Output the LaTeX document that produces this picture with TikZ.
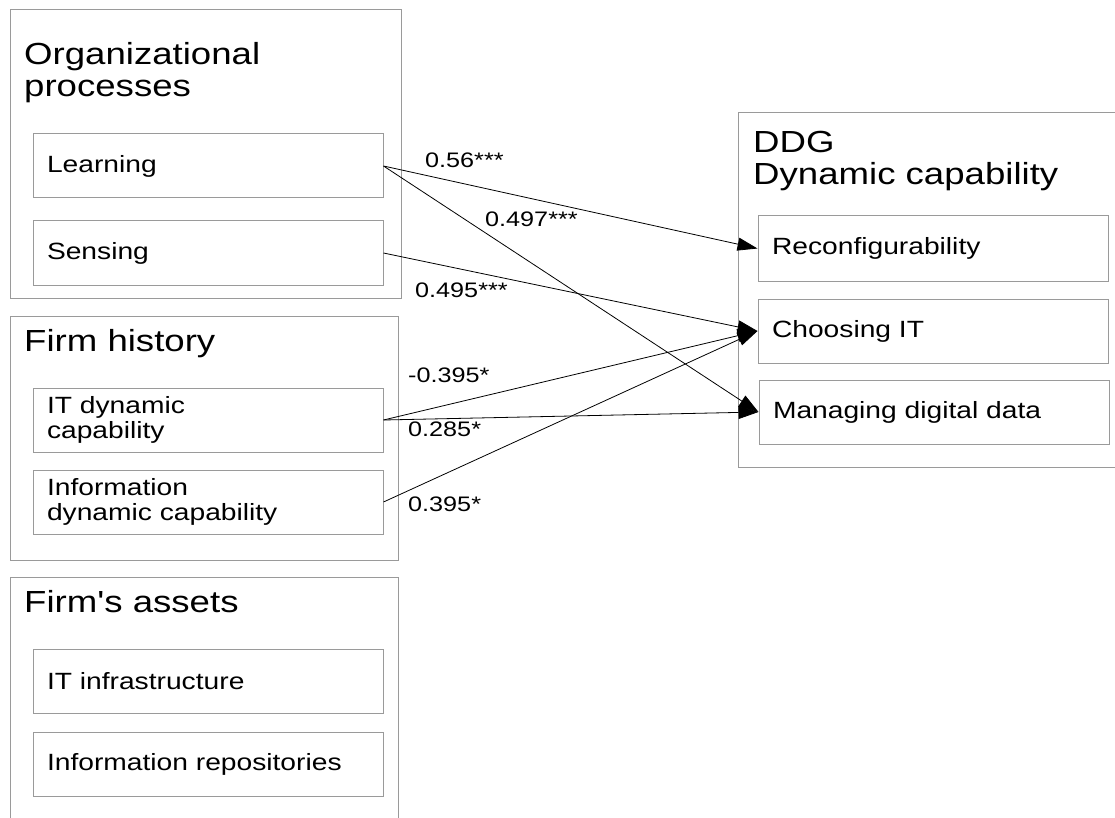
\documentclass[tikz,border=0pt]{standalone}
\usepackage{fontspec}
\setmainfont{Liberation Sans}[FakeStretch=1.2]
\newfontfamily\arialx{Liberation Sans}[FakeStretch=1.2]
\usetikzlibrary{arrows.meta}
\definecolor{boxgray}{HTML}{9A9A9A}
\begin{document}
\begin{tikzpicture}[x=1pt,y=-1pt,
  frame/.style={draw=boxgray, line width=1pt},
  inbox/.style={draw=boxgray, line width=1pt, minimum height=64pt, text width=322pt,
    inner xsep=14pt, inner ysep=0pt, align=left, font=\arialx\fontsize{23.5}{25}\selectfont},
  title/.style={inner sep=0pt, anchor=base west, align=left, font=\arialx\fontsize{30.5}{32}\selectfont},
  lbl/.style={inner sep=0pt, anchor=base west, font=\arialx\fontsize{21}{23}\selectfont},
  conn/.style={draw=black, line width=0.8pt, -{Triangle[length=20pt,width=13pt]}}]
\useasboundingbox (0,0) rectangle (1115,818);
% outer frames
\draw[frame] (10,10) rectangle (401,298);
\draw[frame] (10,316) rectangle (398,560);
\draw[frame] (10,830) -- (10,577) -- (398,577) -- (398,830);
\draw[frame] (1125,113) -- (738,113) -- (738,467) -- (1125,467);
% titles
\node[title] (tOrg) at (24,97) {Organizational\\processes};
\node[title] (tHist) at (24,351) {Firm history};
\node[title] (tAss) at (24,612) {Firm's assets};
\node[title] (tDDG) at (753,185) {DDG\\Dynamic capability};
% inner boxes
\node[inbox] (learn) at (208,166) {Learning};
\node[inbox] (sens) at (208,253) {Sensing};
\node[inbox] (itdc) at (208,420) {IT dynamic\\capability};
\node[inbox] (indc) at (208,502) {Information\\dynamic capability};
\node[inbox] (itinf) at (208,681) {IT infrastructure};
\node[inbox] (inrep) at (208,764) {Information repositories};
\node[inbox, minimum height=65pt] (reco) at (933,248.5) {Reconfigurability};
\node[inbox] (choo) at (933,331) {Choosing IT};
\node[inbox] (mana) at (934,412) {Managing digital data};
% connectors
\draw[conn] (learn.east) -- (reco.west);
\draw[conn] (learn.east) -- (mana.west);
\draw[conn] (sens.east) -- (choo.west);
\draw[conn] (itdc.east) -- (choo.west);
\draw[conn] (itdc.east) -- (mana.west);
\draw[conn] (indc.east) -- (choo.west);
% labels
\node[lbl] (l1) at (425,168) {0.56***};
\node[lbl] (l2) at (485,227) {0.497***};
\node[lbl] (l3) at (415,297) {0.495***};
\node[lbl] (l4) at (408,382) {-0.395*};
\node[lbl] (l5) at (408,436) {0.285*};
\node[lbl] (l6) at (408,511) {0.395*};
\end{tikzpicture}
\end{document}
